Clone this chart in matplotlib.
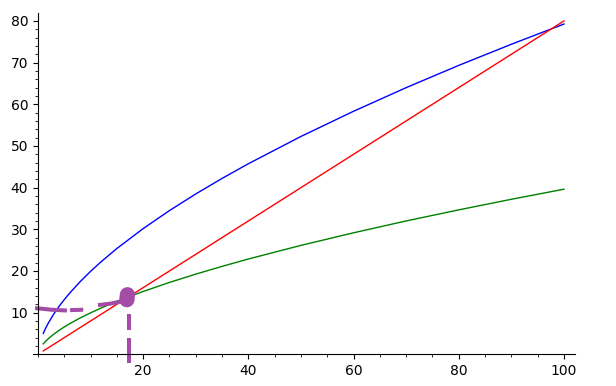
import matplotlib
matplotlib.use("Agg")
import matplotlib.pyplot as plt
from matplotlib.ticker import MultipleLocator

# curve samples
curve_x = [1, 1.5, 2, 3, 4, 5, 6, 8, 10, 12, 15, 20, 25, 30, 35, 40, 50, 60, 70, 80, 90, 100]
blue_y = [5.00, 6.38, 7.58, 9.67, 11.49, 13.13, 14.65, 17.41, 19.91, 22.21, 25.39, 30.17,
          34.49, 38.48, 42.21, 45.73, 52.28, 58.32, 63.99, 69.33, 74.40, 79.25]
green_y = [2.50, 3.19, 3.79, 4.83, 5.74, 6.57, 7.33, 8.71, 9.95, 11.10, 12.70, 15.08,
           17.25, 19.24, 21.10, 22.87, 26.14, 29.16, 32.00, 34.66, 37.20, 39.62]
red_x = [1, 100]
red_y = [0.8, 80]

# purple hand-drawn guide strokes (each a separate dash)
stroke_a_x = [-0.57, 2.5, 5.5]
stroke_a_y = [11.1, 10.7, 10.5]
stroke_b_x = [6.1, 8.6]
stroke_b_y = [10.6, 10.7]
stroke_c_x = [11.4, 14.0, 16.5]
stroke_c_y = [11.8, 12.2, 12.9]
stroke_d_x = [17.3, 17.3]
stroke_d_y = [9.6, 5.8]
stroke_e_x = [17.3, 17.3]
stroke_e_y = [3.8, -2.2]
blob_x = [16.9, 17.0]
blob_y = [13.1, 14.3]

x_major = [20, 40, 60, 80, 100]
y_major = [10, 20, 30, 40, 50, 60, 70, 80]

fig = plt.figure(figsize=(6.16, 3.86), dpi=100)
ax = fig.add_axes([33 / 616, 31.7 / 386, 542 / 616, 341.3 / 386])

ax.plot(curve_x, blue_y, color='blue', lw=1)
ax.plot(curve_x, green_y, color='#008000', lw=1)
ax.plot(red_x, red_y, color='red', lw=1)

pc = '#a24ca6'
for sx, sy in [(stroke_a_x, stroke_a_y), (stroke_b_x, stroke_b_y),
               (stroke_c_x, stroke_c_y), (stroke_d_x, stroke_d_y),
               (stroke_e_x, stroke_e_y)]:
    ax.plot(sx, sy, color=pc, lw=2.9, solid_capstyle='butt', clip_on=False)
ax.plot(blob_x, blob_y, color=pc, lw=11, solid_capstyle='round', clip_on=False)

ax.set_xlim(-0.95, 102.1)
ax.set_ylim(0, 81.9)

for s in ['top', 'right']:
    ax.spines[s].set_visible(False)
ax.spines['left'].set_position(('data', 0))
ax.spines['bottom'].set_position(('data', 0))

ax.set_xticks(x_major)
ax.set_yticks(y_major)
ax.xaxis.set_minor_locator(MultipleLocator(5))
ax.yaxis.set_minor_locator(MultipleLocator(2))
ax.tick_params(which='both', direction='out', labelsize=10)

fig.savefig('out.png', dpi=100)
